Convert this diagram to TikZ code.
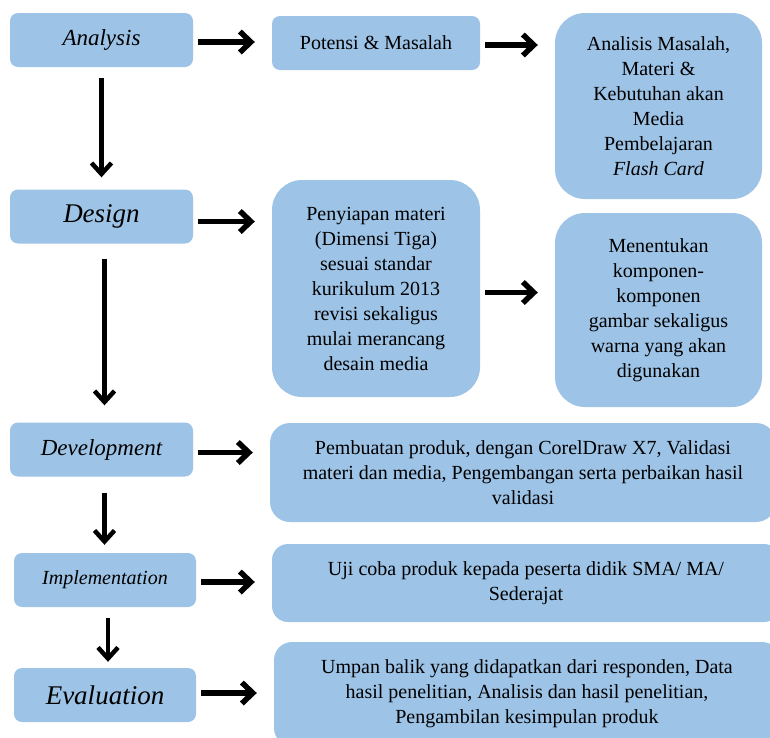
\documentclass[tikz,border=0pt]{standalone}
\usepackage{fontspec}
\setmainfont{LiberationSerif}[Extension=.ttf, UprightFont=*-Regular, ItalicFont=*-Italic, BoldFont=*-Bold, BoldItalicFont=*-BoldItalic]
\usepackage{tikz}
\usetikzlibrary{arrows.meta}
\tikzset{>=latex}
\usepackage{xcolor}
\definecolor{boxblue}{RGB}{157,195,230}
\tikzset{
  stage/.style={fill=boxblue, rounded corners=8pt, inner sep=0pt,
    minimum width=183pt, minimum height=54pt, font=\itshape\fontsize{23}{27}\selectfont},
  content/.style={fill=boxblue, inner sep=0pt, align=center,
    font=\fontsize{20}{25}\selectfont},
  harrow/.style={line width=5.5pt, -{Straight Barb[length=11pt,width=21pt]},
    shorten <=5pt, shorten >=17pt},
  varrow/.style={line width=4.5pt, -{Straight Barb[length=11pt,width=20pt]}}
}

\begin{document}
\begin{tikzpicture}[x=1pt,y=-1pt]
\useasboundingbox (0,0) rectangle (770,737);
\clip (0,0) rectangle (770,737);

% stages on the left
\node[stage] (analysis) at (101.5,40) {Analysis};
\node[stage, font=\itshape\fontsize{27}{30}\selectfont] (design) at (101.5,216.5) {Design};
\node[stage] (development) at (101.5,449.5) {Development};
\node[stage, minimum width=182pt, font=\itshape\fontsize{20}{24}\selectfont] (implementation) at (105,580) {Implementation};
\node[stage, minimum width=182pt, font=\itshape\fontsize{27}{30}\selectfont] (evaluation) at (105,695) {Evaluation};

% analysis and design boxes
\node[content, rounded corners=8pt, minimum width=208pt, minimum height=54pt] (potensi) at (376,43) {Potensi \& Masalah};
\node[content, rounded corners=30pt, minimum width=207pt, minimum height=186pt] (analisis) at (658.5,106)
  {Analisis Masalah,\\Materi \&\\Kebutuhan akan\\Media\\Pembelajaran\\\textit{Flash Card}};
\node[content, rounded corners=30pt, minimum width=208pt, minimum height=217pt] (penyiapan) at (376,288.5)
  {Penyiapan materi\\(Dimensi Tiga)\\sesuai standar\\kurikulum 2013\\revisi sekaligus\\mulai merancang\\desain media};
\node[content, rounded corners=30pt, minimum width=207pt, minimum height=194pt] (komponen) at (658.5,310)
  {Menentukan\\komponen-\\komponen\\gambar sekaligus\\warna yang akan\\digunakan};

% wide boxes
\node[content, rounded corners=20pt, minimum width=506pt, minimum height=99pt] (produk) at (523,472.5)
  {Pembuatan produk, dengan CorelDraw X7, Validasi\\materi dan media, Pengembangan serta perbaikan hasil\\validasi};
\node[content, rounded corners=16pt, minimum width=508pt, minimum height=78pt] (ujicoba) at (526,583)
  {Uji coba produk kepada peserta didik SMA/ MA/\\Sederajat};
\node[content, rounded corners=18pt, minimum width=506pt, minimum height=104pt] (umpanbalik) at (527,694)
  {Umpan balik yang didapatkan dari responden, Data\\hasil penelitian, Analisis dan hasil penelitian,\\Pengambilan kesimpulan produk};

% arrows to the right
\foreach \from/\to/\dy in {analysis/potensi/2, potensi/analisis/2, design/penyiapan/5, penyiapan/komponen/4,
  development/produk/3, implementation/ujicoba/2, evaluation/umpanbalik/-2}{
  \path (\from.east) ++(0,\dy) coordinate (start);
  \draw[harrow] (start) -- (start -| \to.west);
}

% arrows down
\foreach \from/\to/\dx/\ga/\gb in {analysis/design/0/11/12, design/development/3/15/17,
  development/implementation/3/16/8, implementation/evaluation/3/11/6}{
  \path (\from.south) ++(\dx,0) coordinate (start);
  \draw[varrow, shorten <=\ga pt, shorten >=\gb pt] (start) -- (start |- \to.north);
}
\end{tikzpicture}
\end{document}
